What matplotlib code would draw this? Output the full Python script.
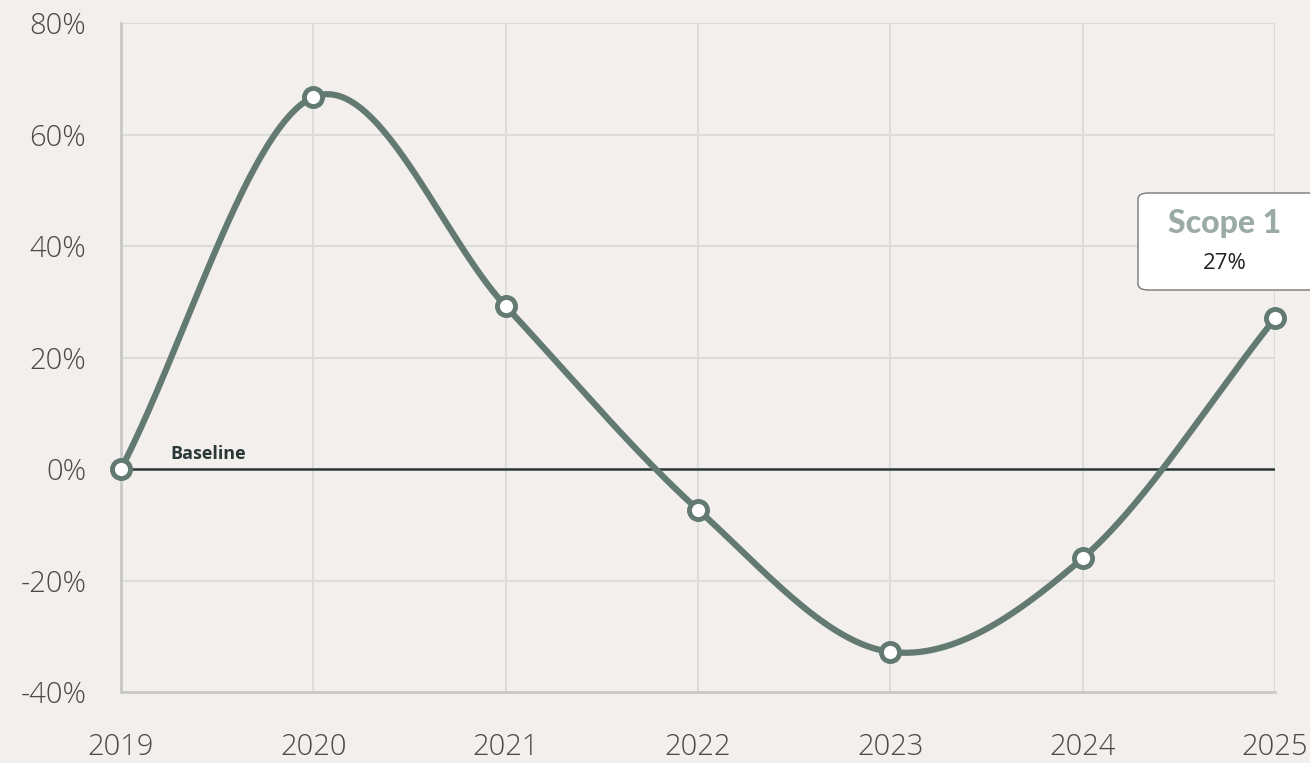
import numpy as np
import matplotlib
matplotlib.use("Agg")
import matplotlib.pyplot as plt
from matplotlib.patches import FancyBboxPatch
from matplotlib import font_manager

years = [2019, 2020, 2021, 2022, 2023, 2024, 2025]
scope1 = [0.0, 66.7, 29.2, -7.3, -32.8, -16.0, 27.0]
yticks = [-40, -20, 0, 20, 40, 60, 80]
ytick_labels = ["-40%", "-20%", "0%", "20%", "40%", "60%", "80%"]
series_name = "Scope 1"
last_label = "27%"
baseline_label = "Baseline"

def pick(fams):
    avail = {f.name for f in font_manager.fontManager.ttflist}
    for f in fams:
        if f in avail:
            return f
    return "DejaVu Sans"

light_font = pick(["Open Sans", "Lato", "Noto Sans"])
bold_font = pick(["Lato", "Open Sans", "Noto Sans"])
semi_font = pick(["Open Sans", "Noto Sans", "Lato"])

BG = "#f2efec"
LINE = "#627a72"
GRID = "#dcdcdc"

def catmull_rom(x, y, n=60):
    x = np.asarray(x, float); y = np.asarray(y, float)
    px = np.concatenate([[2*x[0]-x[1]], x, [2*x[-1]-x[-2]]])
    py = np.concatenate([[2*y[0]-y[1]], y, [2*y[-1]-y[-2]]])
    xs, ys = [], []
    for i in range(1, len(px)-2):
        t = np.linspace(0, 1, n)
        for arr, out in ((px, xs), (py, ys)):
            p0, p1, p2, p3 = arr[i-1], arr[i], arr[i+1], arr[i+2]
            out.append(0.5*((2*p1) + (-p0+p2)*t + (2*p0-5*p1+4*p2-p3)*t**2 + (-p0+3*p1-3*p2+p3)*t**3))
    return np.concatenate(xs), np.concatenate(ys)

fig = plt.figure(figsize=(13.1, 7.63), dpi=100, facecolor=BG)
ax = fig.add_axes([121/1310, 1-692/763, (1275-121)/1310, (692-23)/763])
ax.set_facecolor(BG)
ax.set_xlim(years[0], years[-1])
ax.set_ylim(-40, 80)

for yv in yticks:
    ax.axhline(yv, color=GRID, lw=1.5, zorder=1)
for xv in years:
    ax.axvline(xv, color=GRID, lw=1.5, zorder=1)
for s in ["top", "right"]:
    ax.spines[s].set_visible(False)
for s in ["left", "bottom"]:
    ax.spines[s].set_color("#c8c8c8")
    ax.spines[s].set_linewidth(2)

ax.axhline(0, color="#2b3838", lw=1.8, zorder=2)
ax.text(2019.255, 1.0, baseline_label, fontsize=13, fontweight="bold", family=semi_font,
        color="#2b3838", va="bottom", ha="left", zorder=3)

sx, sy = catmull_rom(years, scope1)
ax.plot(sx, sy, color=LINE, lw=4.5, zorder=4, solid_capstyle="round", clip_on=False)
ax.scatter(years, scope1, s=170, facecolor="white", edgecolor=LINE, linewidth=3.5, zorder=5, clip_on=False)

ax.set_xticks(years)
ax.set_xticklabels([str(y) for y in years])
ax.set_yticks(yticks)
ax.set_yticklabels(ytick_labels)
ax.tick_params(length=0, labelsize=21, labelcolor="#4a4a4a", pad=0)
ax.tick_params(axis="x", pad=40)
ax.tick_params(axis="y", pad=25)
for lab in ax.get_xticklabels():
    lab.set_family(light_font)
    lab.set_fontweight("light")
    lab.set_va("center")
for lab in ax.get_yticklabels():
    lab.set_family(light_font)
    lab.set_fontweight("light")

# tooltip box
box = FancyBboxPatch((1138/1310, 1-290/763), (1318-1138)/1310, (290-193)/763,
                     boxstyle="round,pad=0,rounding_size=0.008", transform=fig.transFigure,
                     facecolor="white", edgecolor="#777777", lw=1.0, zorder=10)
fig.patches.append(box)
fig.text(1225/1310, 1-224/763, series_name, fontsize=23, fontweight="black", family=bold_font,
         color="#9aaba6", ha="center", va="center", zorder=11)
fig.text(1225/1310, 1-263/763, last_label, fontsize=16, family=light_font,
         color="#222222", ha="center", va="center", zorder=11)

fig.savefig("out.png", dpi=100, facecolor=BG)
